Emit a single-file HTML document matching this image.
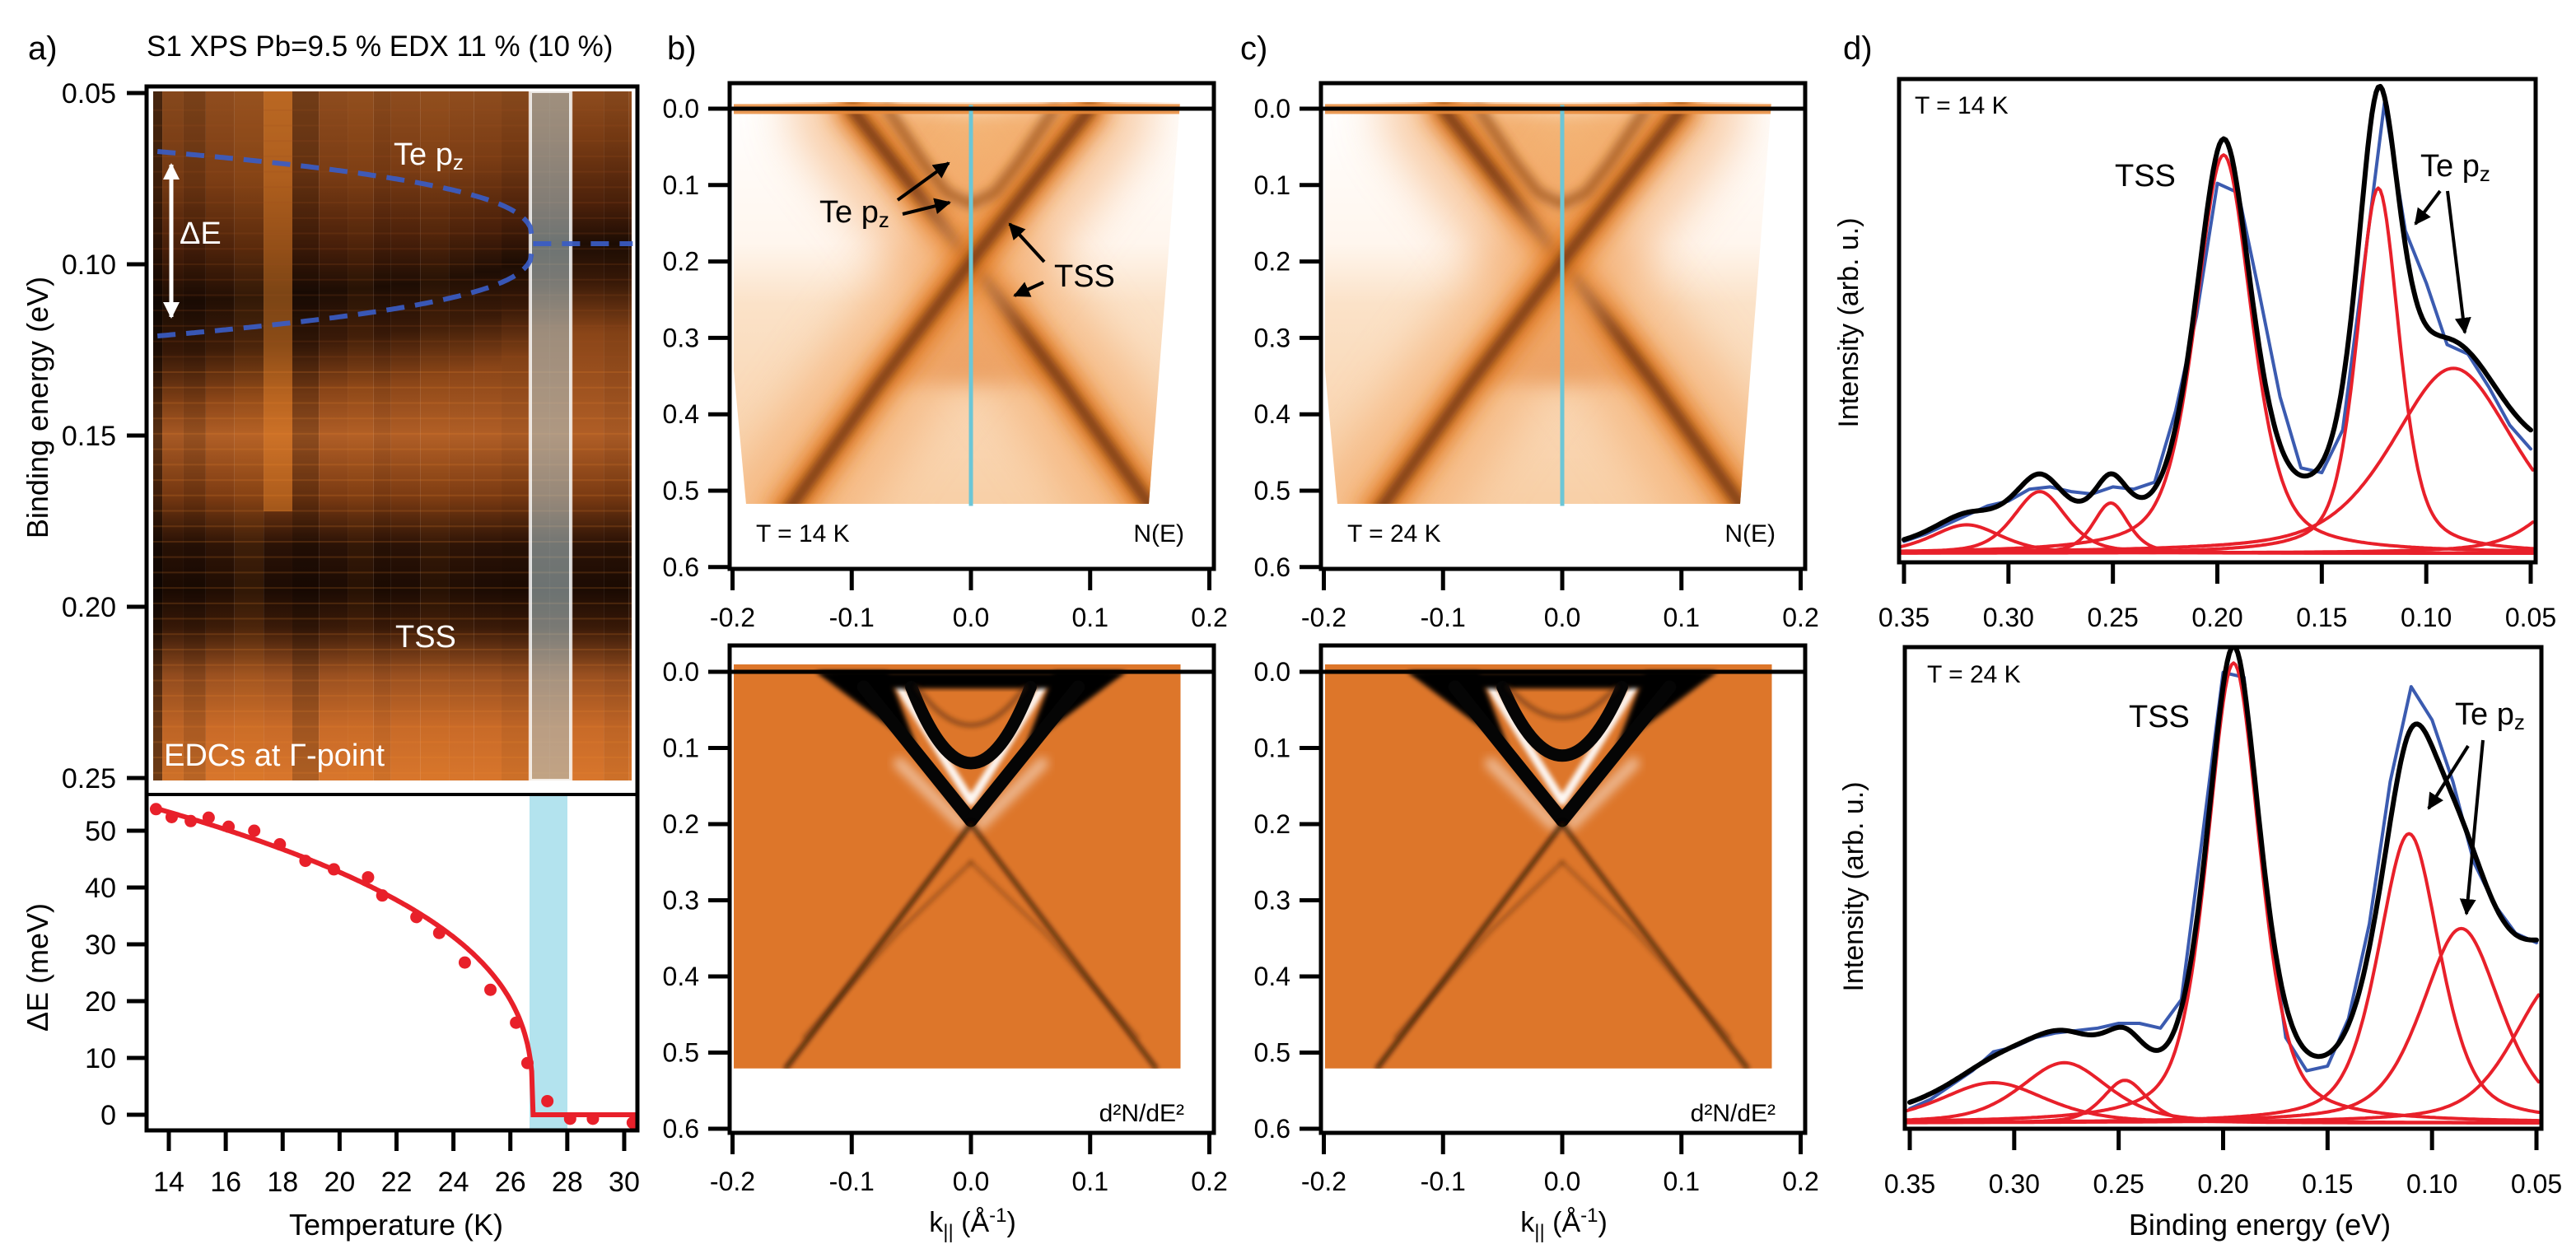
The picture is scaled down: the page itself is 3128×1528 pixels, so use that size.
<!DOCTYPE html>
<html><head><meta charset="utf-8">
<style>
html,body{margin:0;padding:0;background:#fff;}
svg{display:block;font-family:"Liberation Sans",Arial,sans-serif;}
</style></head>
<body>
<svg id="fig" xmlns="http://www.w3.org/2000/svg" width="3128" height="1528" viewBox="0 0 3128 1528">
<defs>
<filter id="bl3" x="-20%" y="-20%" width="140%" height="140%"><feGaussianBlur stdDeviation="3"/></filter>
<filter id="bl6" x="-20%" y="-20%" width="140%" height="140%"><feGaussianBlur stdDeviation="6"/></filter>
<filter id="bl12" x="-30%" y="-30%" width="160%" height="160%"><feGaussianBlur stdDeviation="12"/></filter>
<filter id="bl30" x="-50%" y="-50%" width="200%" height="200%"><feGaussianBlur stdDeviation="30"/></filter>
<linearGradient id="arpesBase" x1="0" y1="0" x2="0" y2="1">
<stop offset="0" stop-color="#ffffff"/><stop offset="0.35" stop-color="#fff6ee"/><stop offset="0.5" stop-color="#fbe2c8"/><stop offset="1" stop-color="#f8cfa6"/>
</linearGradient>
<clipPath id="clipB"><polygon points="891,124 1433,124 1418,318 1395,612 906,612 891,450"/></clipPath>
<clipPath id="clipC"><polygon points="1609,124 2151,124 2136,318 2113,612 1624,612 1609,450"/></clipPath>
<clipPath id="clipBb"><rect x="891" y="807" width="544" height="491"/></clipPath>
<clipPath id="clipCb"><rect x="1609" y="807" width="544" height="491"/></clipPath>
<clipPath id="clipD1"><rect x="2306" y="96" width="773" height="587"/></clipPath>
<clipPath id="clipD2"><rect x="2313" y="786" width="773" height="585"/></clipPath>
<marker id="ah" viewBox="0 0 10 10" refX="9" refY="5" markerWidth="5" markerHeight="5" orient="auto-start-reverse"><path d="M0,0 L10,5 L0,10 z" fill="#000"/></marker>
<marker id="ahw" viewBox="0 0 10 10" refX="9" refY="5" markerWidth="4" markerHeight="4" orient="auto-start-reverse"><path d="M0,0 L10,5 L0,10 z" fill="#fff"/></marker>
</defs>

<g id="panelA">
<text x="34" y="72" font-size="40">a)</text>
<text x="178" y="68" font-size="35">S1 XPS Pb=9.5 % EDX 11 % (10 %)</text>
<g id="hm"></g>
<rect x="644" y="111" width="49" height="837" fill="rgba(175,200,205,0.55)" stroke="rgba(255,255,255,0.8)" stroke-width="4"/>
<g id="dashes"></g>
<line x1="208" y1="200" x2="208" y2="385" stroke="#fff" stroke-width="5" marker-start="url(#ahw)" marker-end="url(#ahw)"/>
<text x="218" y="296" font-size="38" fill="#fff">ΔE</text>
<text x="478" y="200" font-size="38" fill="#fff">Te p<tspan font-size="26" dy="6">z</tspan></text>
<text x="480" y="786" font-size="38" fill="#fff">TSS</text>
<text x="199" y="930" font-size="38" fill="#fff">EDCs at Γ-point</text>
<rect x="643" y="965" width="46" height="408" fill="#b3e3ee"/>
<g id="gapPlot"></g>
<rect x="178" y="105" width="596" height="1268" fill="none" stroke="#000" stroke-width="5"/>
<line x1="178" y1="965" x2="774" y2="965" stroke="#000" stroke-width="4"/>
<g id="aAxes"></g>
<text transform="translate(58,495) rotate(-90)" text-anchor="middle" font-size="36">Binding energy (eV)</text>
<text transform="translate(58,1175) rotate(-90)" text-anchor="middle" font-size="36">ΔE (meV)</text>
<text x="481" y="1500" text-anchor="middle" font-size="36">Temperature (K)</text>
</g>

<text x="810" y="72" font-size="40">b)</text>
<text x="1506" y="72" font-size="40">c)</text>
<g id="arpes"></g>
<g>
<text x="995" y="270" font-size="38">Te p<tspan font-size="26" dy="6">z</tspan></text>
<line x1="1090" y1="243" x2="1152" y2="198" stroke="#000" stroke-width="4" marker-end="url(#ah)"/>
<line x1="1096" y1="260" x2="1153" y2="246" stroke="#000" stroke-width="4" marker-end="url(#ah)"/>
<text x="1280" y="348" font-size="38">TSS</text>
<line x1="1268" y1="318" x2="1226" y2="272" stroke="#000" stroke-width="4" marker-end="url(#ah)"/>
<line x1="1267" y1="343" x2="1232" y2="359" stroke="#000" stroke-width="4" marker-end="url(#ah)"/>
</g>

<text x="2238" y="72" font-size="40">d)</text>
<g id="spectra"></g>
<g>
<text x="2325" y="138" font-size="30">T = 14 K</text>
<text x="2568" y="226" font-size="38">TSS</text>
<text x="2939" y="214" font-size="38">Te p<tspan font-size="26" dy="6">z</tspan></text>
<line x1="2963" y1="232" x2="2933" y2="272" stroke="#000" stroke-width="4" marker-end="url(#ah)"/>
<line x1="2972" y1="232" x2="2993" y2="404" stroke="#000" stroke-width="4" marker-end="url(#ah)"/>
<text x="2340" y="829" font-size="30">T = 24 K</text>
<text x="2585" y="883" font-size="38">TSS</text>
<text x="2981" y="880" font-size="38">Te p<tspan font-size="26" dy="6">z</tspan></text>
<line x1="2997" y1="906" x2="2949" y2="982" stroke="#000" stroke-width="4" marker-end="url(#ah)"/>
<line x1="3015" y1="899" x2="2995" y2="1110" stroke="#000" stroke-width="4" marker-end="url(#ah)"/>
<text transform="translate(2256,392) rotate(-90)" text-anchor="middle" font-size="34">Intensity (arb. u.)</text>
<text transform="translate(2262,1077) rotate(-90)" text-anchor="middle" font-size="34">Intensity (arb. u.)</text>
<text x="2744" y="1500" text-anchor="middle" font-size="36">Binding energy (eV)</text>
</g>
</svg>

<script>
const gapTemps = [13.55,14.1,14.77,15.4,16.1,17.0,17.9,18.8,19.8,21.0,21.5,22.7,23.5,24.4,25.3,26.2,26.6,27.3,28.1,28.9,30.3];
const gapValues = [53.8,52.4,51.7,52.3,50.7,50.0,47.6,44.7,43.2,41.8,38.6,34.8,32.0,26.8,22.0,16.2,9.1,2.4,-0.7,-0.7,-1.4];
const gapFitParams = [69, 26.8, 0.35];
const hmColEdges = [13.3,13.77,14.52,15.3,16.31,17.33,18.34,19.27,20.28,21.2,21.8,22.83,23.84,24.73,25.69,26.64,27.37,28.2,29.28,30.17,30.3];
const hmColBright = [-0.5,-0.05,-0.15,0.02,0.1,0.45,-0.2,0.0,0.05,-0.05,0.0,0.05,0.02,0.0,-0.05,0.0,0.0,0.0,-0.05,0.05];
const hmTicks = [0.05,0.10,0.15,0.20,0.25];
const hmTickLabels = ["0.05","0.10","0.15","0.20","0.25"];
const gapTicks = [0,10,20,30,40,50];
const tempTicks = [14,16,18,20,22,24,26,28,30];
const kTicks = [-0.2,-0.1,0.0,0.1,0.2];
const kTickLabels = ["-0.2","-0.1","0.0","0.1","0.2"];
const eTicks = [0.0,0.1,0.2,0.3,0.4,0.5,0.6];
const eTickLabels = ["0.0","0.1","0.2","0.3","0.4","0.5","0.6"];
const diracPoint = [0.0, 0.2];
const bandBottomK = [0.155];
const bandBottomE = [0.52];
const bandTopK = [0.1];
const parabolaApex = [0.12, 0.11];
const dTicks = [0.35,0.30,0.25,0.20,0.15,0.10,0.05];
const dTickLabels = ["0.35","0.30","0.25","0.20","0.15","0.10","0.05"];
const fit1Centers = [0.320,0.285,0.251,0.197,0.123,0.087,0.020];
const fit1Heights = [6,13,10.6,84,77,39,16];
const fit1Widths = [0.04,0.03,0.02,0.032,0.024,0.07,0.05];
const fit2Centers = [0.310,0.276,0.247,0.195,0.111,0.086,0.040];
const fit2Heights = [8.5,12.7,9,97,61,41,30];
const fit2Widths = [0.06,0.05,0.025,0.03,0.035,0.045,0.05];
const dataE = [0.35,0.34,0.33,0.32,0.31,0.30,0.29,0.28,0.27,0.26,0.25,0.24,0.23,0.22,0.21,0.20,0.19,0.18,0.17,0.16,0.15,0.14,0.13,0.12,0.11,0.10,0.09,0.08,0.07,0.06,0.05];
const data1 = [2.5,4,6,8,10,11,13.5,14,13,12.5,14,13.5,15,30,50,78,76,55,33,18,17,26,60,95,68,57,44,42,35,27,22];
const data2 = [3,5,8,11,15,16,18,19,19.5,20,21,21,20,26,60,95,94,50,18,11,12,22,42,72,92,85,72,55,46,40,38];

const NS = "http://www.w3.org/2000/svg";
function mk(parent, tag, attrs, text){
  const el = document.createElementNS(NS, tag);
  for (const k in attrs) el.setAttribute(k, attrs[k]);
  if (text !== undefined) el.textContent = text;
  parent.appendChild(el);
  return el;
}
const svg = document.getElementById('fig');
const defs = svg.querySelector('defs');

const xT = T => 205 + (T-14)*34.56;
const yHm = E => 113 + (E-0.05)*4160;
const yGap = d => 1354 - d*6.9;
const kX = (k,off) => 1179 + off + k*1447.5;
const eYt = E => 132 + E*928;
const eYb = E => 816 + E*925;
const dX1 = E => 2312 + (0.35-E)*2536.7;
const dX2 = E => 2319 + (0.35-E)*2536.7;
const dY1 = v => 672 - v*5.76;
const dY2 = v => 1364 - v*5.76;
const gapFit = T => T >= gapFitParams[1] ? 0 : gapFitParams[0]*Math.pow(1 - T/gapFitParams[1], gapFitParams[2]);

const hm = document.getElementById('hm');
for (let i = 0; i < hmColEdges.length-1; i++) {
  const Tm = (hmColEdges[i]+hmColEdges[i+1])/2;
  const dE = gapFit(Tm)/1000;
  const bc = 0.094 + dE*0.32, hw = 0.011 + dE*0.07;
  const gid = 'hmg'+i;
  const g = mk(defs, 'linearGradient', {id:gid, x1:0, y1:111, x2:0, y2:948, gradientUnits:'userSpaceOnUse'});
  const stops = [[0.047,'#8e4c1e'],[bc-hw-0.02,'#7a3c14'],[bc-hw,'#4a200a'],[bc,'#1e0d04'],[bc+hw,'#3a1a08'],[bc+hw+0.015,'#8a4518'],
    [0.15,'#b05e26'],[0.168,'#7a3a12'],[0.182,'#2a1206'],[0.195,'#1c0b03'],[0.206,'#3a1a08'],[0.22,'#9a5020'],[0.235,'#c86a28'],[0.252,'#d8762c']];
  stops.sort((a,b)=>a[0]-b[0]);
  for (const s of stops) mk(g, 'stop', {offset: Math.max(0,Math.min(1,(yHm(s[0])-111)/837)), 'stop-color': s[1]});
  const x0 = Math.max(186, xT(hmColEdges[i])), x1 = Math.min(767, xT(hmColEdges[i+1]));
  const col = mk(hm, 'rect', {x:x0, y:111, width:x1-x0, height:837, fill:'url(#'+gid+')'});
  
  
  const b = hmColBright[i];
  const ov = mk(hm, 'rect', {x:x0, y:111, width:x1-x0, height: b>0.3 ? 510 : 837, fill: b>0 ? '#f08a2a' : '#000', opacity: Math.min(0.7, Math.abs(b))});
  
  
}
for (let E = 0.055; E < 0.25; E += 0.0045) {
  const ln = mk(hm, 'line', {x1:186, x2:767, y1:yHm(E), y2:yHm(E), stroke: E>0.13 ? '#f08a30' : '#a05020', 'stroke-width':2, opacity:0.18});
  
  
}

const dashes = document.getElementById('dashes');
let up = '', lo = '';
for (let T = 13.6; T <= 26.95; T += 0.1) {
  const d = gapFit(T)/2000;
  up += (up ? 'L' : 'M') + xT(T).toFixed(1) + ',' + yHm(0.094-d).toFixed(1);
  lo += (lo ? 'L' : 'M') + xT(T).toFixed(1) + ',' + yHm(0.094+d).toFixed(1);
}
const merged = 'M' + xT(26.8) + ',' + yHm(0.094) + 'L' + xT(30.3) + ',' + yHm(0.094);
for (const [p, nm] of [[up,'upper-branch'],[lo,'lower-branch'],[merged,'merged-branch']]) {
  const el = mk(dashes, 'path', {d:p, fill:'none', stroke:'#3a5cc4', 'stroke-width':6, 'stroke-dasharray':'22 13', opacity:0.92});
  
  
}

const gp = document.getElementById('gapPlot');
let fp = '';
for (let T = 13.5; T <= 26.8; T += 0.05) fp += (fp ? 'L' : 'M') + xT(T).toFixed(1) + ',' + yGap(gapFit(T)).toFixed(1);
fp += 'L' + xT(gapFitParams[1]) + ',' + yGap(0) + 'L' + xT(30.4) + ',' + yGap(0);
const fitLine = mk(gp, 'path', {d:fp, fill:'none', stroke:'#e8202a', 'stroke-width':6});


for (let i = 0; i < gapTemps.length; i++) {
  const c = mk(gp, 'circle', {cx:xT(gapTemps[i]), cy:yGap(gapValues[i]), r:7.5, fill:'#e8202a'});
  
  
}

const aAx = document.getElementById('aAxes');
hmTicks.forEach((v,i) => {
  const t = mk(aAx, 'line', {x1:154, x2:178, y1:yHm(v), y2:yHm(v), stroke:'#000', 'stroke-width':5});
  
  
  const l = mk(aAx, 'text', {x:141, y:yHm(v)+12, 'text-anchor':'end', 'font-size':34}, hmTickLabels[i]);
  
  
});
gapTicks.forEach(v => {
  const t = mk(aAx, 'line', {x1:154, x2:178, y1:yGap(v), y2:yGap(v), stroke:'#000', 'stroke-width':5});
  
  
  const l = mk(aAx, 'text', {x:141, y:yGap(v)+12, 'text-anchor':'end', 'font-size':34}, String(v));
  
  
});
tempTicks.forEach(v => {
  const t = mk(aAx, 'line', {x1:xT(v), x2:xT(v), y1:1373, y2:1398, stroke:'#000', 'stroke-width':5});
  
  
  const l = mk(aAx, 'text', {x:xT(v), y:1447, 'text-anchor':'middle', 'font-size':34}, String(v));
  
  
});

const arpes = document.getElementById('arpes');
function P(pts, off, ey){ return pts.map((p,i)=>(i?'L':'M')+kX(p[0],off).toFixed(1)+','+ey(p[1]).toFixed(1)).join(''); }
function addPath(g, d, attrs, name){
  const el = mk(g, 'path', Object.assign({d:d, fill:'none', 'stroke-linecap':'round', 'stroke-linejoin':'round'}, attrs));
  
  
  return el;
}
function drawPanel(off, clipT, clipB, tempLabel, idx){
  const kd = diracPoint[0], ed = diracPoint[1];
  const kb = bandBottomK[0], eb = bandBottomE[0], kt = bandTopK[0];
  const line1 = [[-kt,0.0],[(kd-kt)/2,ed/2],[kd,ed],[kb/2,(ed+eb)/2],[kb,eb+0.01]];
  const line2 = line1.map(p=>[-p[0],p[1]]);
  const tep = [[-0.07,0.0],[-0.04,0.07],[-0.02,0.11],[0,0.125],[0.02,0.11],[0.04,0.07],[0.07,0.0]];
  const gt = mk(arpes, 'g', {'clip-path':'url(#'+clipT+')'});
  
  
  const base = mk(gt, 'rect', {x:kX(-0.21,off), y:122, width:560, height:495, fill:'url(#arpesBase)'});
  
  
  const inner = mk(gt, 'path', {d:P([[-kt,0],[kd,ed],[kt,0]],off,eYt)+'Z', fill:'#f0a050', opacity:0.75, filter:'url(#bl12)'});
  
  
  const lower = mk(gt, 'path', {d:P([[kd,ed],[-0.08,0.36],[0.08,0.36]],off,eYt)+'Z', fill:'#d87020', opacity:0.55, filter:'url(#bl12)'});
  
  
  for (const [ln, nm] of [[line1,'tss-band-1'],[line2,'tss-band-2']]) {
    addPath(gt, P(ln,off,eYt), {stroke:'#f3a868', 'stroke-width':150, opacity:0.6, filter:'url(#bl30)'}, nm+'-halo');
    addPath(gt, P(ln,off,eYt), {stroke:'#e07a22', 'stroke-width':44, opacity:0.95, filter:'url(#bl12)'}, nm+'-glow');
    addPath(gt, P(ln,off,eYt), {stroke:'#5a2608', 'stroke-width':14, opacity:0.8, filter:'url(#bl6)'}, nm+'-core');
  }
  addPath(gt, P(tep,off,eYt), {stroke:'#8a4412', 'stroke-width':12, opacity:0.7, filter:'url(#bl6)'}, 'te-pz-band');
  const fe = mk(gt, 'rect', {x:kX(-0.2,off), y:eYt(-0.006), width:550, height:12, fill:'#e88a3a', opacity:0.85});
  
  
  const cy = mk(arpes, 'line', {x1:kX(0,off), x2:kX(0,off), y1:eYt(-0.005), y2:eYt(0.52), stroke:'#6cc6d6', 'stroke-width':5});
  
  
  const gb = mk(arpes, 'g', {'clip-path':'url(#'+clipB+')'});
  
  
  const bb = mk(gb, 'rect', {x:kX(-0.2,off), y:eYb(-0.01), width:544, height:491, fill:'#dd762a'});
  
  
  const vL = [[-0.09,0.02],[kd,ed-0.005]], vR = [[0.09,0.02],[kd,ed-0.005]];
  addPath(gb, P([[-0.06,0.12],[kd-0.008,ed]],off,eYb), {stroke:'#fff', 'stroke-width':14, opacity:0.5, filter:'url(#bl6)'}, 'outer-white-halo-left');
  addPath(gb, P([[0.06,0.12],[kd+0.008,ed]],off,eYb), {stroke:'#fff', 'stroke-width':14, opacity:0.5, filter:'url(#bl6)'}, 'outer-white-halo-right');
  addPath(gb, P([[-0.06,0.02],[kd,ed-0.03],[0.06,0.02]],off,eYb), {stroke:'#fff', 'stroke-width':10, opacity:0.95, filter:'url(#bl3)'}, 'inner-white-v');
  const topBand = mk(gb, 'path', {d:P([[-0.13,0.0],[0.13,0.0],[0.09,0.022],[-0.09,0.022]],off,eYb)+'Z', fill:'#050505', filter:'url(#bl3)'});
  
  
  const wedgeL = mk(gb, 'path', {d:P([[-0.13,0.0],[-0.07,0.0],[-0.045,0.1]],off,eYb)+'Z', fill:'#050505', filter:'url(#bl3)'});
  
  
  const wedgeR = mk(gb, 'path', {d:P([[0.13,0.0],[0.07,0.0],[0.045,0.1]],off,eYb)+'Z', fill:'#050505', filter:'url(#bl3)'});
  
  
  addPath(gb, P(vL,off,eYb), {stroke:'#050505', 'stroke-width':16}, 'black-v-left');
  addPath(gb, P(vR,off,eYb), {stroke:'#050505', 'stroke-width':16}, 'black-v-right');
  const apex = parabolaApex[idx];
  const pa = 'M'+kX(-0.05,off)+','+eYb(0.02)+' Q'+kX(0,off)+','+eYb(2*apex-0.02)+' '+kX(0.05,off)+','+eYb(0.02);
  addPath(gb, pa, {stroke:'#050505', 'stroke-width':15}, 'te-pz-parabola');
  const pb = 'M'+kX(-0.045,off)+','+eYb(0.02)+' Q'+kX(0,off)+','+eYb(2*(apex-0.05)-0.02)+' '+kX(0.045,off)+','+eYb(0.02);
  addPath(gb, pb, {stroke:'#3a1a08', 'stroke-width':6, opacity:0.45, filter:'url(#bl3)'}, 'inner-parabola');
  addPath(gb, P([[kd,ed],[-kb/2,(ed+eb)/2],[-kb,eb]],off,eYb), {stroke:'#1a0a02', 'stroke-width':5, opacity:0.85, filter:'url(#bl3)'}, 'lower-tss-left');
  addPath(gb, P([[kd,ed],[kb/2,(ed+eb)/2],[kb,eb]],off,eYb), {stroke:'#1a0a02', 'stroke-width':5, opacity:0.75, filter:'url(#bl3)'}, 'lower-tss-right');
  addPath(gb, P([[0,0.25],[-0.06,0.34],[-0.14,0.48]],off,eYb), {stroke:'#3a1a08', 'stroke-width':4, opacity:0.4, filter:'url(#bl3)'}, 'bulk-band-left');
  addPath(gb, P([[0,0.25],[0.06,0.34],[0.14,0.48]],off,eYb), {stroke:'#3a1a08', 'stroke-width':4, opacity:0.35, filter:'url(#bl3)'}, 'bulk-band-right');
  for (const [top,bot,ey,lab,lx,ly] of [[101,691,eYt,'N(E)',1438,658],[784,1376,eYb,'d²N/dE²',1438,1362]]) {
    const z = mk(arpes, 'line', {x1:886+off, x2:1474+off, y1:ey(0), y2:ey(0), stroke:'#000', 'stroke-width':5});
    
    
    const fr = mk(arpes, 'rect', {x:886+off, y:top, width:588, height:bot-top, fill:'none', stroke:'#000', 'stroke-width':5});
    
    
    const tl = mk(arpes, 'text', {x:lx+off, y:ly, 'text-anchor':'end', 'font-size':30}, lab);
    
    
    eTicks.forEach((v,i) => {
      const t = mk(arpes, 'line', {x1:860+off, x2:886+off, y1:ey(v), y2:ey(v), stroke:'#000', 'stroke-width':5});
      
      
      const l = mk(arpes, 'text', {x:849+off, y:ey(v)+11, 'text-anchor':'end', 'font-size':32}, eTickLabels[i]);
      
      
    });
    kTicks.forEach((v,i) => {
      const t = mk(arpes, 'line', {x1:kX(v,off), x2:kX(v,off), y1:bot, y2:bot+26, stroke:'#000', 'stroke-width':5});
      
      
      const l = mk(arpes, 'text', {x:kX(v,off), y:bot+70, 'text-anchor':'middle', 'font-size':32}, kTickLabels[i]);
      
      
    });
  }
  const tt = mk(arpes, 'text', {x:918+off, y:658, 'font-size':30}, tempLabel);
  
  
  const kl = mk(arpes, 'text', {x:1181+off, y:1496, 'text-anchor':'middle', 'font-size':34});
  
  
  kl.innerHTML = 'k<tspan font-size="24" dy="8">||</tspan><tspan dy="-8"> (Å</tspan><tspan font-size="24" dy="-12">-1</tspan><tspan dy="12">)</tspan>';
}
drawPanel(0, 'clipB', 'clipBb', 'T = 14 K', 0);
drawPanel(718, 'clipC', 'clipCb', 'T = 24 K', 1);

const sp = document.getElementById('spectra');
const eta = 0.5;
function pv(E,c,h,w){ const x=(E-c)/w; return h*(eta/(1+4*x*x) + (1-eta)*Math.exp(-4*Math.LN2*x*x)); }
function drawSpec(cs, hs, ws, data, X, Y, clip, frame, name){
  const g = mk(sp, 'g', {'clip-path':'url(#'+clip+')'});
  
  
  let dp = '';
  dataE.forEach((E,i)=>{ dp += (i?'L':'M') + X(E).toFixed(1)+','+Y(data[i]).toFixed(1); });
  addPath(g, dp, {stroke:'#3b5bb0', 'stroke-width':4}, 'measured-edc');
  for (let j = 0; j < cs.length; j++) {
    let p = '';
    for (let E = 0.352; E >= 0.048; E -= 0.001) p += (p?'L':'M') + X(E).toFixed(1)+','+Y(pv(E,cs[j],hs[j],ws[j])).toFixed(1);
    addPath(g, p, {stroke:'#e8202a', 'stroke-width':4}, 'fit-component');
  }
  let t = '';
  for (let E = 0.35; E >= 0.0495; E -= 0.001) { let s=0; for (let j=0;j<cs.length;j++) s+=pv(E,cs[j],hs[j],ws[j]); t += (t?'L':'M') + X(E).toFixed(1)+','+Y(s).toFixed(1); }
  addPath(g, t, {stroke:'#000', 'stroke-width':6}, 'total-fit');
  const fr = mk(sp, 'rect', {x:frame[0], y:frame[1], width:frame[2]-frame[0], height:frame[3]-frame[1], fill:'none', stroke:'#000', 'stroke-width':5});
  
  
  dTicks.forEach((v,i) => {
    const tk = mk(sp, 'line', {x1:X(v), x2:X(v), y1:frame[3], y2:frame[3]+26, stroke:'#000', 'stroke-width':5});
    
    
    const l = mk(sp, 'text', {x:X(v), y:frame[3]+78, 'text-anchor':'middle', 'font-size':32}, dTickLabels[i]);
    
    
  });
}
drawSpec(fit1Centers, fit1Heights, fit1Widths, data1, dX1, dY1, 'clipD1', [2306,96,3079,683], 'spectrum-14k');
drawSpec(fit2Centers, fit2Heights, fit2Widths, data2, dX2, dY2, 'clipD2', [2313,786,3086,1371], 'spectrum-24k');
</script>
</body></html>
